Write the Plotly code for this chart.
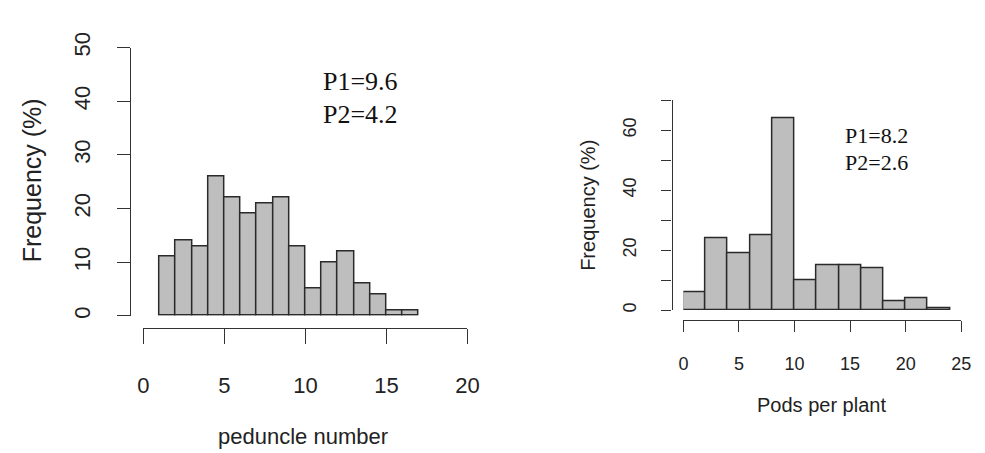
import plotly.graph_objects as go

W, H = 985, 453

# ---- data ----
ped_edges = [1, 2, 3, 4, 5, 6, 7, 8, 9, 10, 11, 12, 13, 14, 15, 16]
ped_width = 1
ped_freq = [11, 14, 13, 26, 22, 19, 21, 22, 13, 5, 10, 12, 6, 4, 1, 1]

pod_edges = [0, 2, 4, 6, 8, 10, 12, 14, 16, 18, 20, 22]
pod_width = 2
pod_freq = [6, 24, 19, 25, 64, 10, 15, 15, 14, 3, 4, 0.5]

ped_xticks = [0, 5, 10, 15, 20]
ped_yticks = [0, 10, 20, 30, 40, 50]
ped_ytext = ["0", "10", "20", "30", "40", "50"]

pod_xticks = [0, 5, 10, 15, 20, 25]
pod_yticks = [0, 10, 20, 30, 40, 50, 60, 70]
pod_ytext = ["0", "", "20", "", "40", "", "60", ""]

ped_stats = ["P1=9.6", "P2=4.2"]
pod_stats = ["P1=8.2", "P2=2.6"]

ped_xtitle = "peduncle number"
pod_xtitle = "Pods per plant"
ytitle = "Frequency (%)"


def fx(px):
    return px / W


def fy(py):
    return 1 - py / H


SANS = "Liberation Sans, Arial, sans-serif"
SERIF = "Liberation Serif, Times New Roman, serif"
AX = "#333333"
TXT = "#222222"
BAR_FILL = "#bebebe"
BAR_LINE = "#2a2a2a"

fig = go.Figure()

fig.add_trace(go.Bar(
    x=[e + ped_width / 2 for e in ped_edges], y=ped_freq, width=ped_width,
    marker=dict(color=BAR_FILL, line=dict(color=BAR_LINE, width=1.5)),
    xaxis="x", yaxis="y", showlegend=False, hoverinfo="skip"))

fig.add_trace(go.Bar(
    x=[e + pod_width / 2 for e in pod_edges], y=pod_freq, width=pod_width,
    marker=dict(color=BAR_FILL, line=dict(color=BAR_LINE, width=1.5)),
    xaxis="x2", yaxis="y2", showlegend=False, hoverinfo="skip"))

common = dict(showgrid=False, zeroline=False, showline=True, linecolor=AX,
              linewidth=1.3, ticks="outside", tickcolor=AX, tickwidth=1.3)

fig.update_layout(
    width=W, height=H, margin=dict(l=0, r=0, t=0, b=0),
    paper_bgcolor="white", plot_bgcolor="white", bargap=0,
    font=dict(family=SANS, color=TXT),
    xaxis=dict(domain=[fx(140), fx(470)], range=[0, 20], anchor="free",
               position=fy(326), tickvals=ped_xticks, ticklen=15,
               tickfont=dict(size=22), ticklabelstandoff=22, **common),
    yaxis=dict(domain=[fy(313), fy(33)], range=[0, 50], anchor="free",
               position=fx(126), tickvals=ped_yticks, ticktext=ped_ytext,
               ticklen=13, tickangle=-90, tickfont=dict(size=22),
               ticklabelstandoff=18, **common),
    xaxis2=dict(domain=[fx(690), fx(973)], range=[0, 25], anchor="free",
                position=fy(317), tickvals=pod_xticks, ticklen=11,
                tickfont=dict(size=18), ticklabelstandoff=17, **common),
    yaxis2=dict(domain=[fy(307), fy(88)], range=[0, 70], anchor="free",
                position=fx(678), tickvals=pod_yticks, ticktext=pod_ytext,
                ticklen=10, tickangle=-90, tickfont=dict(size=18),
                ticklabelstandoff=18, **common),
)

# axis titles
fig.add_annotation(x=fx(303), y=fy(439), xref="paper", yref="paper",
                   text=ped_xtitle, showarrow=False, xanchor="center",
                   yanchor="middle", font=dict(family=SANS, size=22, color=TXT))
fig.add_annotation(x=fx(26), y=fy(172), xref="paper", yref="paper",
                   text=ytitle, showarrow=False, textangle=-90, xanchor="center",
                   yanchor="middle", font=dict(family=SANS, size=25, color=TXT))
fig.add_annotation(x=fx(831), y=fy(406), xref="paper", yref="paper",
                   text=pod_xtitle, showarrow=False, xanchor="center",
                   yanchor="middle", font=dict(family=SANS, size=20, color=TXT))
fig.add_annotation(x=fx(593), y=fy(198), xref="paper", yref="paper",
                   text=ytitle, showarrow=False, textangle=-90, xanchor="center",
                   yanchor="middle", font=dict(family=SANS, size=20, color=TXT))

# statistics text
fig.add_annotation(x=13.4, y=43.75, xref="x", yref="y", text=ped_stats[0],
                   showarrow=False, font=dict(family=SERIF, size=26, color="#111"))
fig.add_annotation(x=13.4, y=37.5, xref="x", yref="y", text=ped_stats[1],
                   showarrow=False, font=dict(family=SERIF, size=26, color="#111"))
fig.add_annotation(x=17.4, y=58.1, xref="x2", yref="y2", text=pod_stats[0],
                   showarrow=False, font=dict(family=SERIF, size=22, color="#111"))
fig.add_annotation(x=17.4, y=49.2, xref="x2", yref="y2", text=pod_stats[1],
                   showarrow=False, font=dict(family=SERIF, size=22, color="#111"))

fig.write_html(
    "out.html",
    config={"displayModeBar": False},
    post_script="document.body.style.margin='0';document.body.style.overflow='hidden';",
)
